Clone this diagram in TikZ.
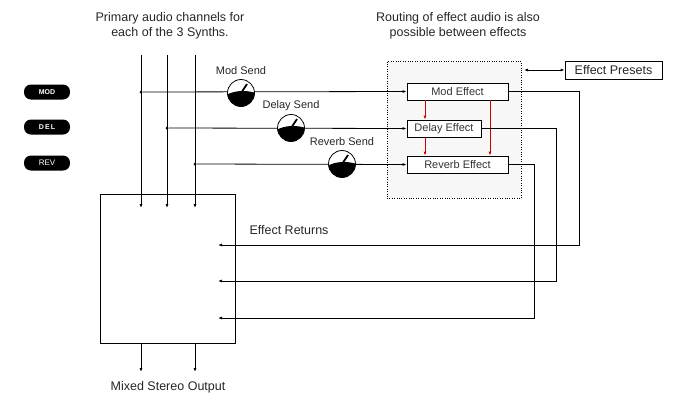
\documentclass[tikz,border=0pt]{standalone}
\usepackage{fontspec}
\setmainfont{Liberation Sans}
\usetikzlibrary{arrows.meta}
\begin{document}
\begin{tikzpicture}[x=1pt,y=-1pt,
  ln/.style={line width=0.8pt},
  arr/.style={ln,-{Latex[length=4pt,width=3pt]}},
  red/.style={draw=red!80!black,line width=0.8pt,-{Latex[length=4pt,width=3pt]}},
  fx/.style={draw,line width=0.8pt,fill=white,inner sep=0pt,font=\fontsize{11}{13}\selectfont,text=black!80},
  lbl/.style={font=\fontsize{12.5}{15.5}\selectfont,align=center,text=black!85},
  slbl/.style={font=\fontsize{11}{13}\selectfont,text=black!85},
  dot/.style={circle,fill,inner sep=0pt,minimum size=3pt},
  pill/.style={rounded corners=7pt,fill=black,inner sep=0pt,minimum width=46pt,minimum height=15pt,text=white,font=\fontsize{7}{8}\bfseries\selectfont}]
\useasboundingbox (0,0) rectangle (681,408);
% texts
\node[lbl] (t1) at (170,26) {Primary audio channels for\\each of the 3 Synths.};
\node[lbl] (t2) at (458,26) {Routing of effect audio is also\\possible between effects};
% container
\node[draw,dotted,fill=black!3,minimum width=134pt,minimum height=137pt,inner sep=0pt] (cont) at (454,129.5) {};
\node[fx,minimum width=101pt,minimum height=17pt] (mod) at (457.5,91.5) {Mod Effect};
\node[fx,minimum width=74pt,minimum height=17pt] (del) at (444,128.5) {Delay Effect};
\node[fx,minimum width=101pt,minimum height=17pt] (rev) at (457.5,164.5) {Reverb Effect};
\node[draw,line width=0.8pt,minimum width=97pt,minimum height=18pt,inner sep=0pt,font=\fontsize{12.5}{14}\selectfont,text=black!85] (pre) at (613.5,70) {Effect Presets};
\coordinate (pa) at (524,70);
\draw[ln,{Latex[length=4pt,width=3pt]}-{Latex[length=4pt,width=3pt]}] (pa) -- (pre.west);
% red arrows
\draw[red] (mod.south -| 425,0) -- (del.north -| 425,0);
\draw[red] (del.south -| 425,0) -- (rev.north -| 425,0);
\draw[red] (mod.south -| 490,0) -- (rev.north -| 490,0);
% mixer box
\node[draw,line width=0.8pt,minimum width=135pt,minimum height=149pt,inner sep=0pt] (mix) at (167.5,268.5) {};
% channels
\foreach \x/\n in {141/a,167/b,195/c}{
  \coordinate (top\n) at (\x,55);
  \coordinate (in\n) at (\x,208);
  \draw[arr] (top\n) -- (in\n);}
\node[dot] (da) at (141,92) {};
\node[dot] (db) at (167,128) {};
\node[dot] (dc) at (195,164) {};
\draw[arr] (da) -- (mod.west);
\draw[arr] (db) -- (del.west);
\draw[arr] (dc) -- (rev.west);
% knobs
\foreach \x/\y/\n/\t in {241/93/k1/Mod Send,291/128/k2/Delay Send,342/164/k3/Reverb Send}{
  \node[circle,draw,line width=0.8pt,fill=white,minimum size=27pt,inner sep=0pt] (\n) at (\x,\y) {};
  \begin{scope}
    \clip (\x,\y) circle (13.5);
    \fill (\x-15,\y+10) -- (\x-15,\y+2) .. controls (\x-5,\y-3) and (\x+5,\y-3) .. (\x+15,\y) -- (\x+15,\y+16) -- (\x-15,\y+16) -- cycle;
  \end{scope}
  \draw[line width=1.8pt] (\x,\y) -- (\x+6,\y-9);
  \node[slbl] (l\n) at (\x,\y-22) {\t};}
% returns
\coordinate (r1) at (218,245);
\coordinate (r2) at (218,281);
\coordinate (r3) at (218,318);
\draw[arr] (mod.east) -| (579,245) -- (r1);
\draw[arr] (del.east) -| (556,281) -- (r2);
\draw[arr] (rev.east) -| (534,318) -- (r3);
\node[lbl,anchor=west] (er) at (246,230) {Effect Returns};
% outputs
\coordinate (o1) at (141,372);
\coordinate (o2) at (195,372);
\draw[arr] (mix.south -| o1) -- (o1);
\draw[arr] (mix.south -| o2) -- (o2);
\node[lbl] (out) at (168,387) {Mixed Stereo Output};
% pills
\node[pill] (p1) at (47,92) {MOD};
\node[pill] (p2) at (47,127) {D\,E\,L};
\node[pill,font=\fontsize{8}{9}\selectfont] (p3) at (47,163) {REV};
\end{tikzpicture}
\end{document}
